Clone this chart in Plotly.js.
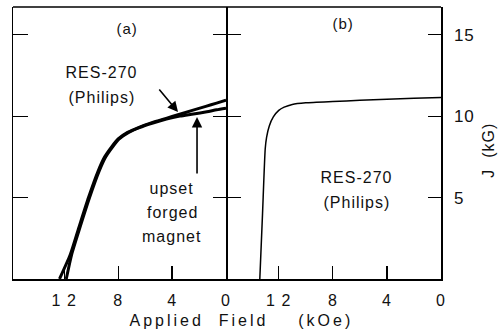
<!DOCTYPE html>
<html>
<head>
<meta charset="utf-8">
<script src="https://cdn.plot.ly/plotly-3.0.1.min.js"></script>
<style>
html,body{margin:0;padding:0;background:#fff;}
.main-svg text{letter-spacing:1px;}
.annotation[data-index="0"] text{letter-spacing:3px;}
</style>
</head>
<body>
<div id="chart" style="width:499px;height:335px;"></div>
<script>
// Panel (a): demagnetization curves, applied field (kOe) vs J (kG)
const philipsA_H = [12.35, 11.55, 10.9, 10.2, 9.5, 9.0, 8.5, 8.0, 7.3, 6.5, 5.5, 4.5, 3.5, 2.5, 1.5, 0.7, 0];
const philipsA_J = [0, 1.5, 3.2, 5.0, 6.6, 7.5, 8.1, 8.6, 9.0, 9.3, 9.6, 9.85, 10.1, 10.35, 10.6, 10.8, 10.98];
const upset_H = [11.85, 11.45, 10.82, 10.12, 9.42, 8.92, 8.42, 7.92, 7.22, 6.42, 5.42, 4.42, 3.42, 2.42, 1.42, 0.7, 0];
const upset_J = [0, 1.5, 3.2, 5.0, 6.6, 7.5, 8.1, 8.6, 9.0, 9.3, 9.58, 9.82, 10.0, 10.13, 10.27, 10.39, 10.49];
// Panel (b)
const philipsB_H = [13.4, 13.2, 13.0, 12.9, 12.7, 12.4, 12.0, 11.6, 11.0, 10.0, 8.0, 6.0, 4.0, 2.0, 0];
const philipsB_J = [0, 4.0, 8.0, 8.7, 9.4, 9.95, 10.35, 10.55, 10.72, 10.82, 10.9, 10.97, 11.03, 11.1, 11.15];

const xTickVals = [12, 8, 4, 0];
const xTickText = ['1 2', '8', '4', '0'];
const yTickVals = [5, 10, 15];
const yTickText = ['5', '10', '15'];

const FONT = 'Liberation Sans, Arial, Helvetica, sans-serif';
const yRange = [0, 16.7];
const NB = '\u00A0';

const traces = [
  {x: philipsA_H, y: philipsA_J, xaxis: 'x', yaxis: 'y', mode: 'lines',
   line: {color: '#000', width: 3, shape: 'spline', smoothing: 0.6}, hoverinfo: 'skip'},
  {x: upset_H, y: upset_J, xaxis: 'x', yaxis: 'y', mode: 'lines',
   line: {color: '#000', width: 3, shape: 'spline', smoothing: 0.6}, hoverinfo: 'skip'},
  {x: philipsB_H, y: philipsB_J, xaxis: 'x2', yaxis: 'y', mode: 'lines',
   line: {color: '#000', width: 1.5, shape: 'spline', smoothing: 0.6}, hoverinfo: 'skip'},
  // empty carriers so the frame-tick axes are created
  {x: [], y: [], xaxis: 'x', yaxis: 'y2', mode: 'lines', hoverinfo: 'skip'},
  {x: [], y: [], xaxis: 'x', yaxis: 'y3', mode: 'lines', hoverinfo: 'skip'},
  {x: [], y: [], xaxis: 'x2', yaxis: 'y4', mode: 'lines', hoverinfo: 'skip'}
];

const split = 0.4977;
const xCommon = {
  tickvals: xTickVals, ticktext: xTickText, ticks: 'inside', ticklen: 13, tickwidth: 1.2,
  tickcolor: '#000', showline: true, linecolor: '#000', linewidth: 1.5,
  showgrid: false, zeroline: false, ticklabelstandoff: 6,
  tickfont: {family: FONT, size: 16, color: '#111'}, fixedrange: true
};
const yBlank = {
  range: yRange, tickvals: yTickVals, showticklabels: false, ticks: 'inside',
  tickcolor: '#000', tickwidth: 1.2, showline: true, linecolor: '#000', linewidth: 1.5,
  showgrid: false, zeroline: false, overlaying: 'y', fixedrange: true
};

const txt = (s, xr, x, y, size) => ({text: s, xref: xr, yref: 'y', x: x, y: y, showarrow: false,
  font: {size: size || 16, family: FONT, color: '#111'}});

const layout = {
  width: 499, height: 335,
  margin: {l: 13, r: 58, t: 7, b: 56},
  paper_bgcolor: '#fff', plot_bgcolor: 'rgba(0,0,0,0)',
  showlegend: false,
  font: {family: FONT, color: '#111'},
  xaxis: Object.assign({}, xCommon, {domain: [0, split], range: [15.8, 0], anchor: 'y'}),
  xaxis2: Object.assign({}, xCommon, {domain: [split, 1], range: [15.9, 0], anchor: 'y'}),
  yaxis: {
    range: yRange, anchor: 'x2', side: 'right', tickvals: yTickVals, ticktext: yTickText,
    ticks: 'inside', ticklen: 13, tickwidth: 1.2, tickcolor: '#000', showline: true,
    linecolor: '#000', linewidth: 1.5, showgrid: false, zeroline: false,
    ticklabelstandoff: 8, tickfont: {family: FONT, size: 17, color: '#111'}, fixedrange: true
  },
  yaxis2: Object.assign({}, yBlank, {anchor: 'x', side: 'left', ticklen: 15}),
  yaxis3: Object.assign({}, yBlank, {anchor: 'x', side: 'right', ticklen: 13}),
  yaxis4: Object.assign({}, yBlank, {anchor: 'x2', side: 'left', ticklen: 15, showline: false}),
  shapes: [
    {type: 'line', xref: 'paper', yref: 'paper', x0: 0, x1: 1, y0: 1, y1: 1,
     line: {color: '#000', width: 1.5}}
  ],
  annotations: [
    {text: 'Applied' + NB + NB + 'Field' + NB + NB + NB + NB + '(kOe)', xref: 'paper', yref: 'paper', x: 0.533, y: -0.154,
     xanchor: 'center', yanchor: 'middle', showarrow: false, font: {size: 16, family: FONT, color: '#111'}},
    {text: 'J' + NB + NB + '(kG)', xref: 'paper', yref: 'paper', x: 1.11, y: 0.474, textangle: -90,
     xanchor: 'center', yanchor: 'middle', showarrow: false, font: {size: 16, family: FONT, color: '#111'}},
    txt('(a)', 'x', 7.33, 15.4, 15),
    txt('(b)', 'x2', 7.26, 15.7, 15),
    txt('RES-270', 'x', 9.26, 12.7),
    txt('(Philips)', 'x', 9.19, 11.17),
    txt('upset', 'x', 4.0, 5.58),
    txt('forged', 'x', 4.0, 4.11),
    txt('magnet', 'x', 4.0, 2.58),
    txt('RES-270', 'x2', 6.22, 6.26),
    txt('(Philips)', 'x2', 6.22, 4.72),
    {text: '', xref: 'x', yref: 'y', x: 3.56, y: 10.25, ax: -20, ay: -24, showarrow: true,
     arrowhead: 2, arrowsize: 1.3, arrowwidth: 1.6, arrowcolor: '#000', standoff: 0},
    {text: '', xref: 'x', yref: 'y', x: 2.15, y: 9.94, ax: 0, ay: 58, showarrow: true,
     arrowhead: 2, arrowsize: 1.3, arrowwidth: 1.6, arrowcolor: '#000', standoff: 0}
  ]
};

Plotly.newPlot('chart', traces, layout, {staticPlot: true, displayModeBar: false});
</script>
</body>
</html>
